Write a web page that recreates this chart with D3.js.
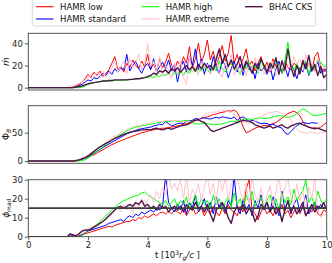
<!DOCTYPE html>
<html>
<head>
<meta charset="utf-8">
<script src="https://cdn.jsdelivr.net/npm/d3@7"></script>
<style>
  body { margin: 0; background: #fff; }
  svg { display: block; font-family: "DejaVu Sans", sans-serif; }
</style>
</head>
<body>
<div id="chart"></div>
<script>
// sampling times: t=0, then 1.0 ... 10.0 every 0.1  [10^3 r_g/c]
var times = [0].concat(d3.range(1.0, 10.001, 0.1));

var seriesNames = ["HAMR low", "HAMR standard", "HAMR high", "HAMR extreme", "BHAC CKS"];
var seriesColors = ["#ff0000", "#0000ff", "#00ff00", "#ffc0cb", "#4f1748"];

// accretion rate mdot
var mdotLow = [0,
  0,0,0,0,0,0.5,1.5,3,5,8,
  12,9,14,11,15,10,13,16,22,28,
  16,19,14,22,18,25,20,17,24,19,
  30,17,21,15,26,18,23,31,20,16,
  24,19,28,22,37,18,26,40,23,30,
  43,25,33,20,28,38,24,31,47,22,
  30,18,26,35,20,24,15,22,28,17,
  23,14,26,19,21,13,24,18,16,22,
  20,12,25,17,22,15,28,32,19,14,
  18];
var mdotStandard = [0,
  0,0,0,0,0,0,0.5,2,3,5,
  7,6,9,8,10,13,11,15,12,17,
  14,18,16,30,15,20,24,17,13,19,
  22,16,26,14,19,23,17,25,15,21,
  5,18,24,14,28,20,35,16,26,12,
  22,15,28,18,13,25,20,9,17,24,
  14,21,11,23,16,19,8,22,15,18,
  12,20,7,17,24,13,19,10,21,16,
  8,18,14,22,11,19,15,24,13,17,
  14];
var mdotHigh = [0,
  0,0,0,0,0,0,0,0,0.5,1.5,
  3,4,4.5,5,5.5,5.5,6,6,6,6.5,
  6.5,6.5,7,7,7,7.5,8,8,8.5,9,
  9,10,9,11,10,12,11,13,10,14,
  12,15,11,16,13,18,14,17,15,19,
  16,13,20,15,24,17,14,19,22,16,
  18,12,21,17,23,15,20,13,25,18,
  14,22,17,26,19,13,24,41,20,16,
  22,15,19,24,12,21,17,25,23,19,
  20];
var mdotExtreme = [0,
  0,0,0,0,1,2,3,4,5,7,
  9,12,10,14,11,15,9,13,17,25,
  14,19,24,12,27,18,22,30,16,21,
  40,19,24,14,28,10,20,16,8,22,
  12,25,9,3,28,14,20,11,24,17,
  21,12,18,26,14,9,22,16,30,11,
  19,13,24,10,21,16,27,14,18,12,
  20,15,24,11,18,25,14,22,17,28,
  21,26,15,30,19,23,14,27,20,17,
  21];
var mdotBHAC = [0,
  0,0,0,0,0,0,0.5,1,1.5,2.5,
  3.5,4,4.5,5,5.5,6,6,6.5,6.5,7,
  7,7,7,7,7.5,7.5,8,8,8.5,9,
  10,11,13,12,15,14,16,13,17,15,
  18,14,17,20,16,19,15,21,17,22,
  18,20,16,26,35,22,30,19,25,17,
  21,28,16,24,19,13,22,17,26,20,
  14,22,18,27,12,24,16,35,19,10,
  20,13,24,17,29,15,21,11,19,9,
  12];

// magnetic flux Phi_B
var phiBLow = [0,
  0,0,0,0,0,0,0.5,1.5,3,5,
  7,9,11,14,17,20,23,26,29,31,
  34,36,38,40,42,44,46,48,50,51,
  53,54,55,56,57,58,58,59,60,61,
  62,63,65,66,68,70,72,73,75,77,
  78,80,82,83,85,86,87,89,88,90,
  86,75,60,50,52,55,58,60,61,63,
  62,64,66,68,72,76,80,84,86,88,
  85,80,70,62,60,58,59,57,60,64,
  68];
var phiBStandard = [0,
  0,0,0,0,0,0,0.5,1.5,3,5,
  8,11,14,17,20,24,27,30,33,36,
  39,42,45,48,50,52,54,56,57,58,
  59,60,62,63,65,64,70,66,62,64,
  66,67,66,70,71,72,75,74,76,76,
  75,74,76,77,76,78,77,76,75,78,
  72,76,78,74,70,72,70,68,66,67,
  66,64,65,62,60,58,50,47,52,58,
  62,66,68,67,66,68,67,67,null,null,
  null];
var phiBHigh = [0,
  0,0,0,0,0,0,0,0,1,2,
  5,9,13,17,21,25,29,33,37,41,
  44,47,50,53,56,58,60,61,62,63,
  64,65,66,67,68,69,70,70,71,71,
  70,70,71,72,71,68,66,65,66,67,
  66,65,64,64,65,66,67,69,70,70,
  70,72,74,75,74,73,75,76,76,75,
  75,77,78,79,80,80,78,77,78,80,
  84,88,92,90,86,82,80,81,82,83,
  84];
var phiBExtreme = [0,
  0,0,0,0,0,0,1,2,4,6,
  9,13,17,21,25,29,33,37,41,44,
  47,50,53,56,58,60,62,63,64,65,
  66,68,70,71,70,69,72,72,71,72,
  72,71,70,69,70,70,71,72,78,82,
  84,85,86,87,88,90,89,87,85,82,
  78,72,70,68,66,68,70,74,78,82,
  84,86,86,88,86,84,82,80,72,62,
  56,52,50,49,50,51,50,49,50,51,
  52];
var phiBBHAC = [0,
  0,0,0,0,0,0,1,2,4,6,
  9,13,17,21,25,28,31,34,37,40,
  42,45,47,49,51,52,53,54,55,55,
  56,55,57,58,56,55,57,58,56,58,
  60,62,63,64,66,70,72,73,70,68,
  62,55,52,54,56,58,60,62,64,66,
  68,70,72,71,70,68,64,62,60,58,
  60,62,58,60,62,64,60,58,62,64,
  66,67,64,62,60,58,57,58,56,54,
  53];

// MAD parameter phi_mad
var phiMadLow = [0,
  0,0,0,0,0,0,0,0.5,1,1.5,
  2,2.5,3,3.5,4,4.5,5,5.5,5,6,
  6.5,7,7.5,8,8,9,8.5,10,9.5,11,
  10,11,12,11,12.5,13,12,13.5,12,14,
  13,12,15,11,14,16,12,13,15,11,
  14,12,16,13,11,15,12,17,14,13,
  11,16,13,25,30,14,12,9,13,16,
  12,14,11,15,13,17,12,14,10,13,
  15,12,16,11,14,13,17,12,11,14,
  13];
var phiMadStandard = [0,
  0,0,0,0,1,0.5,0,0,1,2,
  3,3.5,4,4.5,5,5.5,6,7,7.5,8,
  8.5,9,8,10,11,10,12,11,13,12,
  13,14,13,15,14,16,32,18,15,13,
  17,14,19,12,18,15,22,13,16,20,
  14,18,12,21,15,17,13,19,16,32,
  15,12,20,14,17,11,19,15,22,14,
  18,13,21,16,11,24,14,19,12,17,
  20,13,16,22,12,15,18,14,17,15,
  16];
var phiMadHigh = [0,
  0,0,0,0,0,0,0,0,0.5,2,
  3.5,4.5,5.5,6.5,8,9.5,11,12.5,14,15.5,
  17,18,19,19.5,20.5,21,21.5,22,23,23.5,
  22,21,20,19,18,17,19,16,18,20,
  16,19,17,21,15,18,22,16,20,17,
  19,15,22,17,20,14,18,21,16,23,
  17,20,15,22,18,24,16,19,21,15,
  19,22,16,20,14,23,18,21,17,25,
  19,22,24,30,18,21,16,24,19,17,
  20];
var phiMadExtreme = [0,
  0,0,0,0,1.5,1,0.5,1,2,3,
  4,5,5.5,6,7,8,9,10,12,14,
  15,13,17,14,16,12,18,15,20,17,
  19,22,18,24,20,26,22,32,25,28,
  24,30,20,32,18,25,22,28,19,26,
  32,22,28,17,32,24,31,20,27,32,
  31,24,19,28,17,32,22,18,26,16,
  22,27,16,24,32,19,26,31,21,17,
  28,19,24,15,26,20,31,14,10,12,
  11];
var phiMadBHAC = [0,
  0,0,0,0,1.5,1,0.5,1.5,3,3.5,
  3.5,4,5,6,7,8,9.5,11,12.5,14,
  15.5,16,15,16,17,16,18,17,19,16,
  17,15,16,14,17,15,16,13,15,16,
  14,16,13,17,15,14,18,15,16,13,
  17,12,8,14,16,18,15,10,7,13,
  16,14,17,12,15,13,8,11,17,15,
  18,13,16,12,15,8,14,19,13,16,
  12,15,18,11,14,17,13,16,15,18,
  14];

var xTicks = [0, 2, 4, 6, 8, 10];
var madLevel = 15;

var panels = [
  { data: [mdotLow, mdotStandard, mdotHigh, mdotExtreme, mdotBHAC],
    domain: [-2.1, 49], top: 33.3, bottom: 90, ticks: [0, 20, 40], label: "mdot" },
  { data: [phiBLow, phiBStandard, phiBHigh, phiBExtreme, phiBBHAC],
    domain: [-4, 97.7], top: 105.7, bottom: 163.3, ticks: [0, 50], label: "phiB" },
  { data: [phiMadLow, phiMadStandard, phiMadHigh, phiMadExtreme, phiMadBHAC],
    domain: [0, 30], top: 179.7, bottom: 236.7, ticks: [0, 10, 20, 30], label: "phimad" }
];

var width = 332, height = 263;
var left = 28.3, right = 326.7;

var svg = d3.select("#chart").append("svg")
  .attr("width", width)
  .attr("height", height);

var x = d3.scaleLinear().domain([0, 10]).range([left, right]);

panels.forEach(function(p, pi) {
  var y = d3.scaleLinear().domain(p.domain).range([p.bottom, p.top]);
  var g = svg.append("g");

  g.append("clipPath").attr("id", "clip" + pi)
    .append("rect")
    .attr("x", left).attr("y", p.top)
    .attr("width", right - left).attr("height", p.bottom - p.top);

  var line = d3.line()
    .defined(function(d) { return d != null; })
    .x(function(d, i) { return x(times[i]); })
    .y(function(d) { return y(d); });

  var plot = g.append("g").attr("clip-path", "url(#clip" + pi + ")");
  p.data.forEach(function(vals, si) {
    plot.append("path")
      .datum(vals)
      .attr("fill", "none")
      .attr("stroke", seriesColors[si])
      .attr("stroke-width", si == 4 ? 1.4 : 1)
      .attr("stroke-linejoin", "round")
      .attr("d", line);
  });

  // MAD saturation level
  if (pi == 2) {
    plot.append("line")
      .attr("x1", left).attr("x2", right)
      .attr("y1", y(madLevel)).attr("y2", y(madLevel))
      .attr("stroke", "#3c3c3c")
      .attr("stroke-width", 1.8);
  }

  // y axis
  var yAxis = d3.axisLeft(y).tickValues(p.ticks).tickSize(3.5).tickPadding(2);
  var ya = g.append("g").attr("transform", "translate(" + left + ",0)").call(yAxis);
  ya.select(".domain").remove();
  ya.selectAll("line").attr("stroke", "#333").attr("stroke-width", 0.8);
  ya.selectAll("text").attr("font-size", "8.5px").attr("fill", "#222")
    .attr("font-family", "DejaVu Sans");

  // x axis only labelled on the bottom panel
  if (pi == 2) {
    var xAxis = d3.axisBottom(x).tickValues(xTicks).tickSize(3.5).tickPadding(2);
    var xa = g.append("g").attr("transform", "translate(0," + p.bottom + ")").call(xAxis);
    xa.select(".domain").remove();
    xa.selectAll("line").attr("stroke", "#333").attr("stroke-width", 0.8);
    xa.selectAll("text").attr("font-size", "8.5px").attr("fill", "#222")
      .attr("font-family", "DejaVu Sans");
  }

  // frame
  g.append("rect")
    .attr("x", left).attr("y", p.top)
    .attr("width", right - left).attr("height", p.bottom - p.top)
    .attr("fill", "none")
    .attr("stroke", "#444")
    .attr("stroke-width", 0.9);

  // y label
  var cy = (p.top + p.bottom) / 2;
  var lab = g.append("text")
    .attr("transform", "translate(9," + cy + ") rotate(-90)")
    .attr("text-anchor", "middle")
    .attr("font-size", "9px")
    .attr("fill", "#111");
  if (p.label == "mdot") {
    lab.append("tspan").attr("font-style", "italic").text("\u1E41");
  } else if (p.label == "phiB") {
    lab.append("tspan").text("\u03A6");
    lab.append("tspan").attr("font-size", "6px").attr("font-style", "italic")
      .attr("dy", 2).text("B");
  } else {
    lab.append("tspan").attr("font-style", "italic").text("\u03D5");
    lab.append("tspan").attr("font-size", "6px").attr("dy", 2).text("mad");
  }
});

// x label
var xl = svg.append("text")
  .attr("x", (left + right) / 2)
  .attr("y", 258)
  .attr("text-anchor", "middle")
  .attr("font-size", "8.5px")
  .attr("fill", "#111");
xl.append("tspan").text("t [10");
xl.append("tspan").attr("font-size", "6px").attr("dy", -3.5).text("3");
xl.append("tspan").attr("font-style", "italic").attr("dy", 3.5).text("r");
xl.append("tspan").attr("font-style", "italic").attr("font-size", "6px").attr("dy", 1.8).text("g");
xl.append("tspan").attr("font-style", "italic").attr("dy", -1.8).text("/c");
xl.append("tspan").text(" ]");

// legend
var legend = svg.append("g");
legend.append("rect")
  .attr("x", 32.3).attr("y", -1)
  .attr("width", 283.4).attr("height", 27)
  .attr("rx", 2)
  .attr("fill", "#fff")
  .attr("stroke", "#cfcfcf")
  .attr("stroke-width", 0.8);

var legendCols = [36, 141.7, 245];
var legendRows = [6.7, 19];
var legendPos = [[0, 0], [0, 1], [1, 0], [1, 1], [2, 0]];
seriesNames.forEach(function(name, i) {
  var lx = legendCols[legendPos[i][0]];
  var ly = legendRows[legendPos[i][1]];
  legend.append("line")
    .attr("x1", lx).attr("x2", lx + 17.5)
    .attr("y1", ly).attr("y2", ly)
    .attr("stroke", seriesColors[i])
    .attr("stroke-width", i == 4 ? 1.4 : 1.1);
  legend.append("text")
    .attr("x", lx + 24)
    .attr("y", ly + 3)
    .attr("font-size", "8.5px")
    .attr("fill", "#111")
    .text(name);
});
</script>
</body>
</html>
